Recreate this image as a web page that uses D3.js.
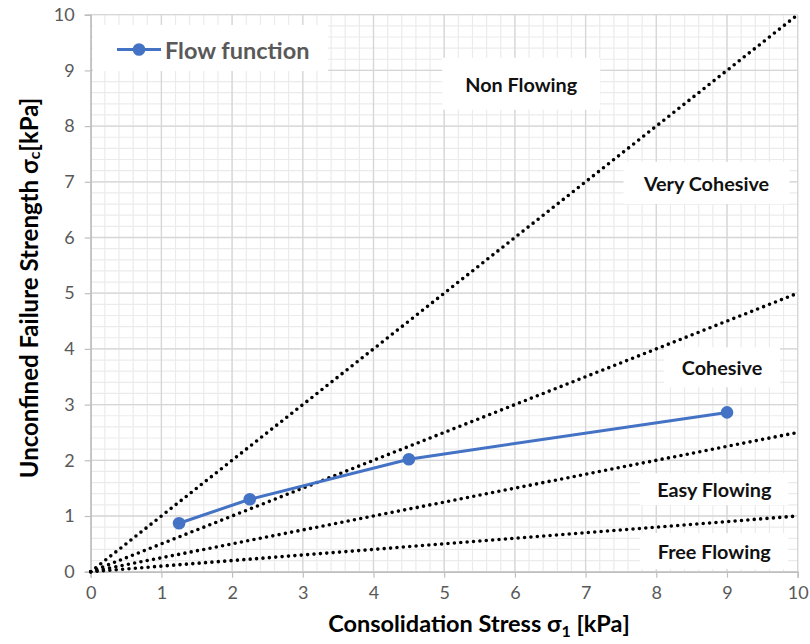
<!DOCTYPE html>
<html>
<head>
<meta charset="utf-8">
<script src="https://cdn.jsdelivr.net/npm/d3@7"></script>
<style>
  html, body { margin: 0; padding: 0; background: #fff; }
  svg { display: block; }
  text { font-family: Lato, "Open Sans", sans-serif; }
</style>
</head>
<body>
<svg id="chart" width="810" height="644"></svg>
<script>
// Flow function of a bulk solid: unconfined failure strength vs consolidation stress
const consolidationStress = [1.25, 2.25, 4.5, 9];
const failureStrength = [0.87, 1.30, 2.02, 2.86];

// Flowability boundaries ffc = σ1 / σc (Jenike classification)
const ffcBoundaries = [1, 2, 4, 10];

// Flowability regions
const regionNames = ["Non Flowing", "Very Cohesive", "Cohesive", "Easy Flowing", "Free Flowing"];
const regionX = [6.09, 8.71, 8.93, 8.82, 8.82];
const regionY = [8.76, 6.98, 3.67, 1.48, 0.37];

const axisTicks = [0, 1, 2, 3, 4, 5, 6, 7, 8, 9, 10];

const W = 810, H = 644;
const margin = { left: 90.7, right: 12.3, top: 14.7, bottom: 72.3 };
const svg = d3.select("#chart");

const x = d3.scaleLinear().domain([0, 10]).range([margin.left, W - margin.right]);
const y = d3.scaleLinear().domain([0, 10]).range([H - margin.bottom, margin.top]);

// Minor and major gridlines
const minor = d3.range(0, 10.001, 0.2);
const grid = svg.append("g");
grid.selectAll("line.mx").data(minor).join("line")
  .attr("x1", d => x(d)).attr("x2", d => x(d))
  .attr("y1", y(0)).attr("y2", y(10))
  .attr("stroke", "#ebebeb").attr("stroke-width", 1.2);
grid.selectAll("line.my").data(minor).join("line")
  .attr("y1", d => y(d)).attr("y2", d => y(d))
  .attr("x1", x(0)).attr("x2", x(10))
  .attr("stroke", "#ebebeb").attr("stroke-width", 1.2);
grid.selectAll("line.Mx").data(axisTicks).join("line")
  .attr("x1", d => x(d)).attr("x2", d => x(d))
  .attr("y1", y(0)).attr("y2", y(10))
  .attr("stroke", "#d6d6d6").attr("stroke-width", 1.3);
grid.selectAll("line.My").data(axisTicks).join("line")
  .attr("y1", d => y(d)).attr("y2", d => y(d))
  .attr("x1", x(0)).attr("x2", x(10))
  .attr("stroke", "#d6d6d6").attr("stroke-width", 1.3);

// Axes
const xAxis = svg.append("g")
  .attr("transform", `translate(0,${y(0)})`)
  .call(d3.axisBottom(x).tickValues(axisTicks).tickFormat(d3.format("d")).tickSize(6).tickPadding(9));
const yAxis = svg.append("g")
  .attr("transform", `translate(${x(0)},0)`)
  .call(d3.axisLeft(y).tickValues(axisTicks).tickFormat(d3.format("d")).tickSize(6).tickPadding(10));
[xAxis, yAxis].forEach(a => {
  a.select(".domain").attr("stroke", "#bfbfbf").attr("stroke-width", 1.5);
  a.selectAll(".tick line").attr("stroke", "#bfbfbf").attr("stroke-width", 1.2);
  a.selectAll(".tick text").attr("fill", "#595959")
    .style("font-family", "Lato, sans-serif").style("font-size", "18px");
});

// Region label boxes
const boxW = [158, 166, 116, 148, 148];
const boxH = [52, 42, 40, 32, 36];
const labels = svg.append("g");
regionNames.forEach((name, i) => {
  const cx = x(regionX[i]), cy = y(regionY[i]);
  labels.append("rect")
    .attr("x", cx - boxW[i] / 2).attr("y", cy - boxH[i] / 2)
    .attr("width", boxW[i]).attr("height", boxH[i])
    .attr("fill", "#fff");
  labels.append("text")
    .attr("x", cx).attr("y", cy)
    .attr("text-anchor", "middle").attr("dominant-baseline", "central")
    .attr("fill", "#111").attr("font-weight", "bold")
    .style("font-size", "19.8px")
    .text(name);
});

// ffc boundary lines through the origin
svg.append("g").selectAll("line").data(ffcBoundaries).join("line")
  .attr("x1", x(0)).attr("y1", y(0))
  .attr("x2", x(10)).attr("y2", d => y(10 / d))
  .attr("stroke", "#000").attr("stroke-width", 3.6)
  .attr("stroke-linecap", "round").attr("stroke-dasharray", "0 6.4");

// Flow function series
const pts = consolidationStress.map((s, i) => [s, failureStrength[i]]);
const blue = "#4472c4";
svg.append("path")
  .datum(pts)
  .attr("fill", "none").attr("stroke", blue).attr("stroke-width", 3)
  .attr("d", d3.line().x(d => x(d[0])).y(d => y(d[1])));
svg.append("g").selectAll("circle").data(pts).join("circle")
  .attr("cx", d => x(d[0])).attr("cy", d => y(d[1])).attr("r", 6.3)
  .attr("fill", blue);

// Legend
const leg = svg.append("g");
leg.append("rect").attr("x", 93).attr("y", 25).attr("width", 235).attr("height", 46).attr("fill", "#fff");
leg.append("line").attr("x1", 117).attr("x2", 161).attr("y1", 49.5).attr("y2", 49.5)
  .attr("stroke", blue).attr("stroke-width", 3);
leg.append("circle").attr("cx", 139).attr("cy", 49.5).attr("r", 6.3).attr("fill", blue);
leg.append("text").attr("x", 165).attr("y", 49.5)
  .attr("dominant-baseline", "central").attr("fill", "#595959").attr("font-weight", "bold")
  .style("font-size", "23.5px").text("Flow function");

// Axis titles
const xt = svg.append("text")
  .attr("x", 479).attr("y", 632)
  .attr("text-anchor", "middle").attr("font-weight", "bold").attr("fill", "#000")
  .style("font-size", "23.5px");
xt.append("tspan").text("Consolidation Stress σ");
xt.append("tspan").attr("dy", 5).style("font-size", "16px").text("1");
xt.append("tspan").attr("dy", -5).text(" [kPa]");

const yt = svg.append("text")
  .attr("transform", "translate(28,288) rotate(-90)")
  .attr("text-anchor", "middle").attr("font-weight", "bold").attr("fill", "#000")
  .attr("dominant-baseline", "central")
  .style("font-size", "24px");
yt.append("tspan").text("Unconfined Failure Strength σ");
yt.append("tspan").attr("dy", 5).style("font-size", "16px").text("c");
yt.append("tspan").attr("dy", -5).text("[kPa]");
</script>
</body>
</html>
